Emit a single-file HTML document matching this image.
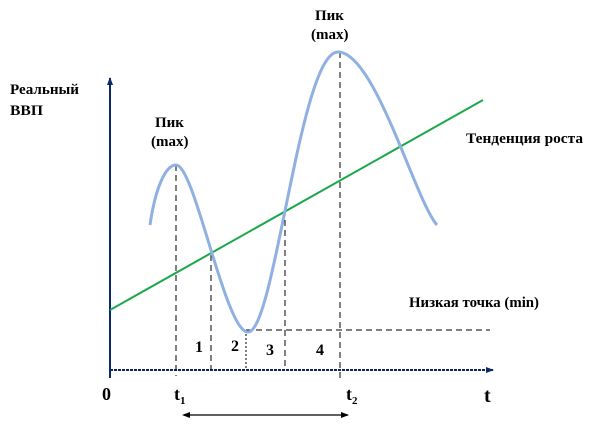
<!DOCTYPE html>
<html><head><meta charset="utf-8"><style>
body{margin:0;background:#fff;}
svg text{font-family:"Times New Roman","Liberation Serif",serif;font-weight:bold;fill:#000;}
</style></head><body>
<svg width="601" height="421" viewBox="0 0 601 421" xmlns="http://www.w3.org/2000/svg">
<defs>
<marker id="a" markerWidth="8" markerHeight="8" refX="7" refY="4" orient="auto" markerUnits="userSpaceOnUse"><path d="M0,1 L8,4 L0,7 Z" fill="#000"/></marker>
<marker id="b" markerWidth="8" markerHeight="8" refX="7" refY="4" orient="auto" markerUnits="userSpaceOnUse"><path d="M0,1 L8,4 L0,7 Z" fill="#0a2a66"/></marker>
</defs>
<line x1="110" y1="378" x2="110" y2="78" stroke="#0a2a66" stroke-width="2" marker-end="url(#b)"/>
<line x1="110" y1="370" x2="493" y2="370" stroke="#0a2a66" stroke-width="2" stroke-dasharray="3,1" marker-end="url(#b)"/>
<g stroke="#000" stroke-width="1" stroke-dasharray="6,4" fill="none">
<line x1="176" y1="165" x2="176" y2="376"/>
<line x1="211" y1="255" x2="211" y2="370"/>
<line x1="246" y1="330" x2="246" y2="370" stroke-dasharray="2,2"/>
<line x1="285" y1="210" x2="285" y2="370"/>
<line x1="340" y1="52" x2="340" y2="378"/>
<line x1="246" y1="330" x2="490" y2="330"/>
</g>
<line x1="110" y1="310" x2="483" y2="100" stroke="#1aa84a" stroke-width="2"/>
<path d="M150,225 C155,190 165,165 176,165 C195,165 225,332 248,332 C275,332 300,52 338,52 C375,52 415,200 437,225" fill="none" stroke="#8fb0e0" stroke-width="3"/>
<line x1="184" y1="415" x2="348" y2="415" stroke="#000" stroke-width="1.2" marker-end="url(#a)"/>
<path d="M182,415 L190,412 L190,418 Z" fill="#000"/>
<text x="10" y="94" font-size="15" textLength="69" lengthAdjust="spacingAndGlyphs">Реальный</text>
<text x="10" y="115" font-size="15" textLength="33" lengthAdjust="spacingAndGlyphs">ВВП</text>
<text x="155" y="127" font-size="15">Пик</text>
<text x="151" y="146" font-size="15">(max)</text>
<text x="315" y="20" font-size="15">Пик</text>
<text x="311" y="39" font-size="15">(max)</text>
<text x="466" y="143" font-size="15" textLength="117" lengthAdjust="spacingAndGlyphs">Тенденция роста</text>
<text x="409" y="307" font-size="15" textLength="130" lengthAdjust="spacingAndGlyphs">Низкая  точка (min)</text>
<text x="195" y="352" font-size="16">1</text>
<text x="231" y="351" font-size="16">2</text>
<text x="266" y="355" font-size="16">3</text>
<text x="316" y="355" font-size="16">4</text>
<text x="102" y="400" font-size="18">0</text>
<text x="174" y="400" font-size="18">t<tspan font-size="11" dy="4">1</tspan></text>
<text x="346" y="400" font-size="18">t<tspan font-size="11" dy="4">2</tspan></text>
<text x="484" y="402" font-size="20">t</text>
</svg>
</body></html>
